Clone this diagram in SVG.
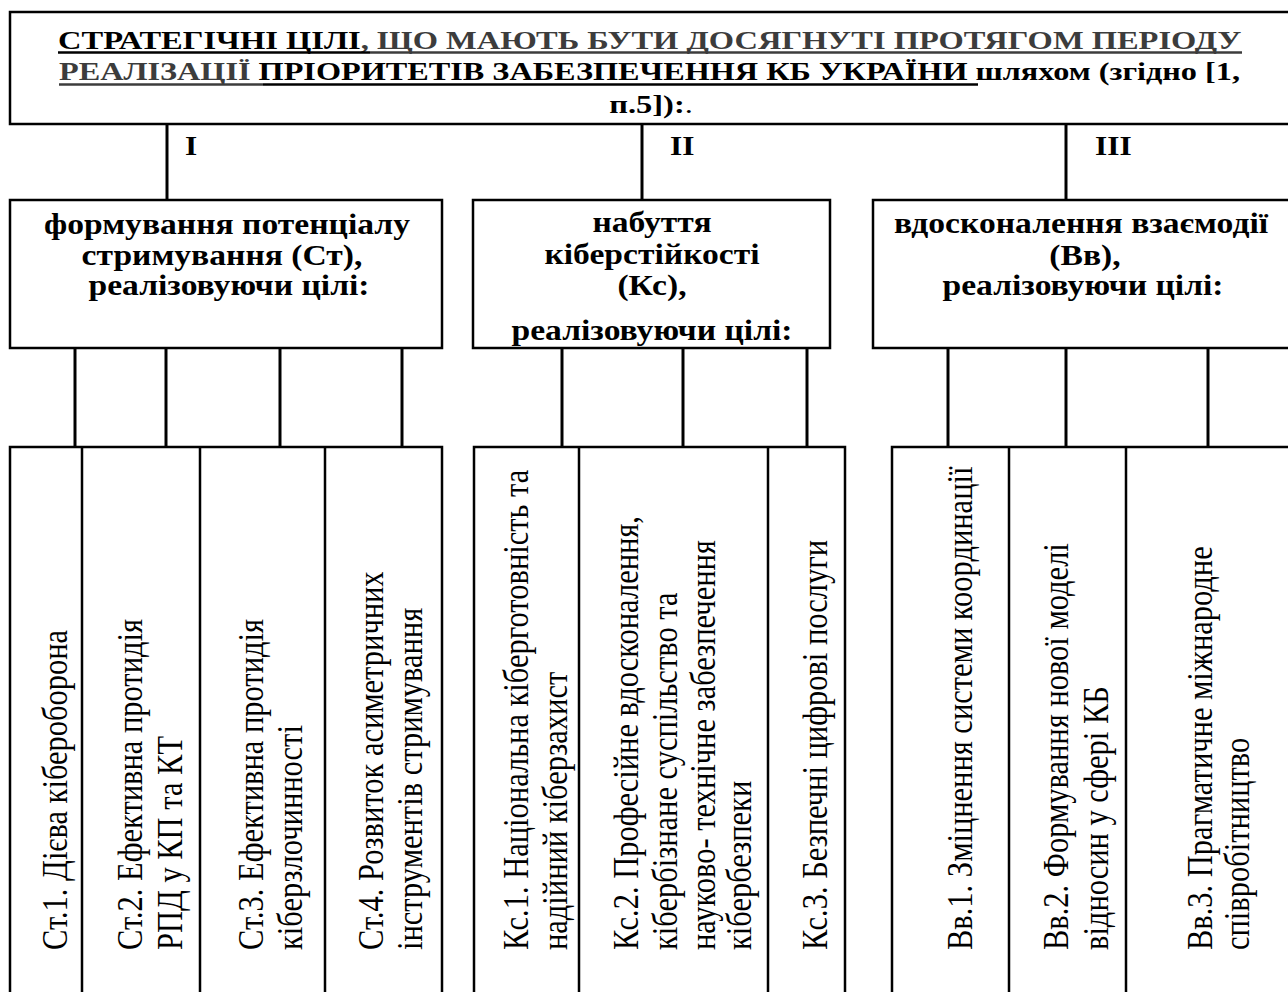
<svg xmlns="http://www.w3.org/2000/svg" width="1288" height="992" viewBox="0 0 1288 992">
<style>
.b{font-family:"Liberation Serif","Times New Roman",serif;font-weight:bold;fill:#000}
.hd{font-size:25px}
.bx{font-size:30px}
.r{font-family:"Liberation Serif","Times New Roman",serif;font-size:30.5px;fill:#000}
.g{fill:#3c3c3c}
.box{fill:#fff;stroke:#000;stroke-width:2.5}
.cell{fill:none;stroke:#000;stroke-width:2.5}
.con{stroke:#000;stroke-width:3;fill:none}
.ul{stroke-width:2.5}
</style>
<rect width="1288" height="992" fill="#fff"/>
<g id="header">
<rect class="box" x="10" y="12" width="1290" height="112" stroke-width="2"/>
<text class="b hd" transform="translate(58,49) scale(1.3,1)">СТРАТЕГІЧНІ ЦІЛІ<tspan class="g">, ЩО МАЮТЬ БУТИ ДОСЯГНУТІ ПРОТЯГОМ ПЕРІОДУ</tspan></text>
<text class="b hd" transform="translate(59,80) scale(1.29,1)"><tspan class="g">РЕАЛІЗАЦІЇ</tspan> ПРІОРИТЕТІВ ЗАБЕЗПЕЧЕННЯ КБ УКРАЇНИ шляхом (згідно [1,</text>
<text class="b hd" text-anchor="middle" transform="translate(651,113) scale(1.3,1)">п.5]):<tspan font-weight="normal">.</tspan></text>
<line class="ul" x1="58" y1="52.5" x2="370" y2="52.5" stroke="#000"/>
<line class="ul" x1="370" y1="52.5" x2="1242" y2="52.5" stroke="#3c3c3c"/>
<line class="ul" x1="59" y1="84.5" x2="263" y2="84.5" stroke="#3c3c3c"/>
<line class="ul" x1="263" y1="84.5" x2="978" y2="84.5" stroke="#000"/>
</g>
<g id="connectors">
<line class="con" x1="167" y1="124" x2="167" y2="200"/>
<line class="con" x1="642" y1="124" x2="642" y2="200"/>
<line class="con" x1="1066" y1="124" x2="1066" y2="200"/>
<line class="con" x1="75" y1="348" x2="75" y2="447"/>
<line class="con" x1="166" y1="348" x2="166" y2="447"/>
<line class="con" x1="280" y1="348" x2="280" y2="447"/>
<line class="con" x1="402" y1="348" x2="402" y2="447"/>
<line class="con" x1="562" y1="348" x2="562" y2="447"/>
<line class="con" x1="683" y1="348" x2="683" y2="447"/>
<line class="con" x1="807" y1="348" x2="807" y2="447"/>
<line class="con" x1="948" y1="348" x2="948" y2="447"/>
<line class="con" x1="1066" y1="348" x2="1066" y2="447"/>
<line class="con" x1="1208" y1="348" x2="1208" y2="447"/>
</g>
<g id="labels">
<text class="b" font-size="28" transform="translate(185,155) scale(1.12,1)">I</text>
<text class="b" font-size="28" transform="translate(670,155) scale(1.12,1)">II</text>
<text class="b" font-size="28" transform="translate(1095,155) scale(1.12,1)">III</text>
</g>
<g id="node-st">
<rect class="box" x="10" y="200" width="432" height="148"/>
<text class="b bx" text-anchor="middle" transform="translate(227,234) scale(1.12,1)">формування потенціалу</text>
<text class="b bx" text-anchor="middle" transform="translate(222,265) scale(1.12,1)">стримування (Ст),</text>
<text class="b bx" text-anchor="middle" transform="translate(229,295) scale(1.12,1)">реалізовуючи цілі:</text>
</g>
<g id="node-ks">
<rect class="box" x="473" y="200" width="357" height="148"/>
<text class="b bx" text-anchor="middle" transform="translate(652,232) scale(1.12,1)">набуття</text>
<text class="b bx" text-anchor="middle" transform="translate(652,264) scale(1.12,1)">кіберстійкості</text>
<text class="b bx" text-anchor="middle" transform="translate(652,295) scale(1.12,1)">(Кс),</text>
<text class="b bx" text-anchor="middle" transform="translate(652,340) scale(1.12,1)">реалізовуючи цілі:</text>
</g>
<g id="node-vv">
<rect class="box" x="873" y="200" width="420" height="148"/>
<text class="b bx" text-anchor="middle" transform="translate(1081,233) scale(1.12,1)">вдосконалення взаємодії</text>
<text class="b bx" text-anchor="middle" transform="translate(1085,265) scale(1.12,1)">(Вв),</text>
<text class="b bx" text-anchor="middle" transform="translate(1083,295) scale(1.12,1)">реалізовуючи цілі:</text>
</g>
<g id="cells-st">
<rect class="cell" x="10" y="447" width="432" height="560"/>
<line class="cell" x1="82" y1="447" x2="82" y2="992"/>
<line class="cell" x1="200" y1="447" x2="200" y2="992"/>
<line class="cell" x1="325" y1="447" x2="325" y2="992"/>
</g>
<g id="st1"><text class="r" transform="translate(67,950) scale(1.15,1) rotate(-90)">Ст.1. Дієва кібероборона</text></g>
<g id="st2">
<text class="r" transform="translate(142,950) scale(1.15,1) rotate(-90)">Ст.2. Ефективна протидія</text>
<text class="r" transform="translate(182,950) scale(1.15,1) rotate(-90)">РПД у КП та КТ</text>
</g>
<g id="st3">
<text class="r" transform="translate(263,950) scale(1.15,1) rotate(-90)">Ст.3. Ефективна протидія</text>
<text class="r" transform="translate(302,950) scale(1.15,1) rotate(-90)">кіберзлочинності</text>
</g>
<g id="st4">
<text class="r" transform="translate(383,950) scale(1.15,1) rotate(-90)">Ст.4. Розвиток асиметричних</text>
<text class="r" transform="translate(422,950) scale(1.15,1) rotate(-90)">інструментів стримування</text>
</g>
<g id="cells-ks">
<rect class="cell" x="474" y="447" width="371" height="560"/>
<line class="cell" x1="579" y1="447" x2="579" y2="992"/>
<line class="cell" x1="768" y1="447" x2="768" y2="992"/>
</g>
<g id="ks1">
<text class="r" transform="translate(528,950) scale(1.15,1) rotate(-90)">Кс.1. Національна кіберготовність та</text>
<text class="r" transform="translate(567,950) scale(1.15,1) rotate(-90)">надійний кіберзахист</text>
</g>
<g id="ks2">
<text class="r" transform="translate(638,950) scale(1.15,1) rotate(-90)">Кс.2. Професійне вдосконалення,</text>
<text class="r" transform="translate(677,950) scale(1.15,1) rotate(-90)">кібербізнане суспільство та</text>
<text class="r" transform="translate(715,950) scale(1.15,1) rotate(-90)">науково- технічне забезпечення</text>
<text class="r" transform="translate(751,950) scale(1.15,1) rotate(-90)">кібербезпеки</text>
</g>
<g id="ks3"><text class="r" transform="translate(827,950) scale(1.15,1) rotate(-90)">Кс.3. Безпечні цифрові послуги</text></g>
<g id="cells-vv">
<rect class="cell" x="892" y="447" width="420" height="560"/>
<line class="cell" x1="1009" y1="447" x2="1009" y2="992"/>
<line class="cell" x1="1126" y1="447" x2="1126" y2="992"/>
</g>
<g id="vv1"><text class="r" transform="translate(972,950) scale(1.15,1) rotate(-90)">Вв.1. Зміцнення системи координації</text></g>
<g id="vv2">
<text class="r" transform="translate(1068,950) scale(1.15,1) rotate(-90)">Вв.2. Формування нової моделі</text>
<text class="r" transform="translate(1108,950) scale(1.15,1) rotate(-90)">відносин у сфері КБ</text>
</g>
<g id="vv3">
<text class="r" transform="translate(1212,950) scale(1.15,1) rotate(-90)">Вв.3. Прагматичне міжнародне</text>
<text class="r" transform="translate(1249,950) scale(1.15,1) rotate(-90)">співробітництво</text>
</g>
</svg>
